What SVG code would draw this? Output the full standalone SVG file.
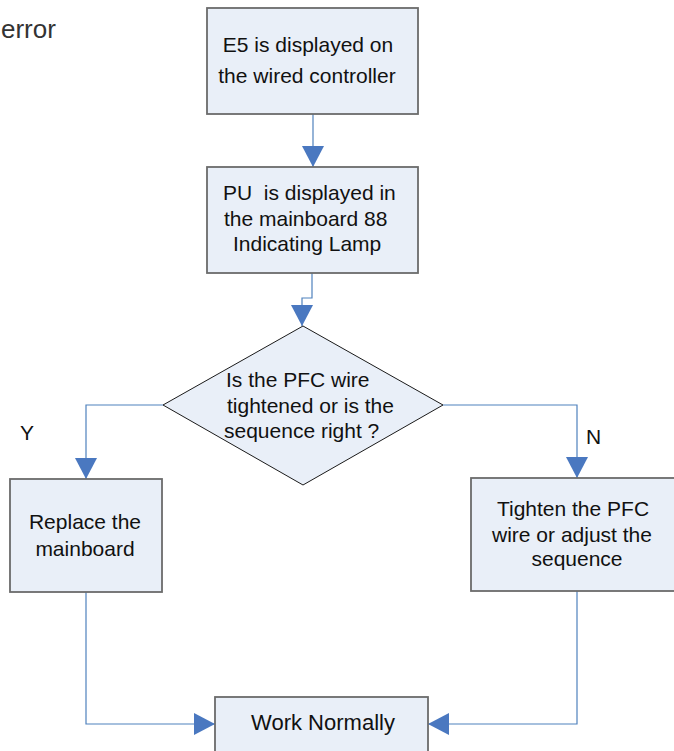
<svg xmlns="http://www.w3.org/2000/svg" width="674" height="751" viewBox="0 0 674 751">
<style>
.box{fill:#e9eff8;stroke:#6b6b6b;stroke-width:1.8}
.dia{fill:#e9eff8;stroke:#1a1a1a;stroke-width:1}
.t{font-family:"Liberation Sans",Arial,sans-serif;font-size:21px;fill:#111}
.c{fill:none;stroke:#4f81bd;stroke-width:1.2}
</style>
<defs>
<marker id="ah" viewBox="0 0 21 22" refX="21" refY="11" markerWidth="21" markerHeight="22" markerUnits="userSpaceOnUse" orient="auto">
<path d="M0,0 L21,11 L0,22 z" fill="#4a78c0"/>
</marker>
</defs>
<text x="1" y="38" class="t" style="font-size:26px;fill:#333">error</text>
<g id="connectors">
<path class="c" d="M313,114 V167" marker-end="url(#ah)"/>
<path class="c" d="M312,273 V298 H302 V326" marker-end="url(#ah)"/>
<path class="c" d="M163,405 H86 V479" marker-end="url(#ah)"/>
<path class="c" d="M443,405 H577 V478" marker-end="url(#ah)"/>
<path class="c" d="M86,592 V724 H215" marker-end="url(#ah)"/>
<path class="c" d="M577,591 V724 H428" marker-end="url(#ah)"/>
<text x="20" y="440" class="t">Y</text>
<text x="586" y="444" class="t">N</text>
</g>
<g id="n1">
<rect class="box" x="207" y="8" width="211" height="106"/>
<text x="308" y="52" class="t" text-anchor="middle">E5 is displayed on</text>
<text x="307" y="83" class="t" text-anchor="middle">the wired controller</text>
</g>
<g id="n2">
<rect class="box" x="207" y="167" width="211" height="106"/>
<text x="223" y="200" class="t" xml:space="preserve">PU  is displayed in</text>
<text x="224" y="226" class="t">the mainboard 88</text>
<text x="233" y="251" class="t">Indicating Lamp</text>
</g>
<g id="n3">
<polygon class="dia" points="303,326 443,405 303,485 163,405"/>
<text x="226" y="387" class="t">Is the PFC wire</text>
<text x="227" y="413" class="t">tightened or is the</text>
<text x="224" y="438" class="t">sequence right ?</text>
</g>
<g id="n4">
<rect class="box" x="10" y="479" width="152" height="113"/>
<text x="85" y="529" class="t" text-anchor="middle">Replace the</text>
<text x="85" y="556" class="t" text-anchor="middle">mainboard</text>
</g>
<g id="n5">
<rect class="box" x="471" y="478" width="210" height="113"/>
<text x="573" y="516" class="t" text-anchor="middle">Tighten the PFC</text>
<text x="572" y="542" class="t" text-anchor="middle">wire or adjust the</text>
<text x="577" y="566" class="t" text-anchor="middle">sequence</text>
</g>
<g id="n6">
<rect class="box" x="215" y="697" width="213" height="60"/>
<text x="323" y="730" class="t" text-anchor="middle" style="font-size:22px">Work Normally</text>
</g>
</svg>
